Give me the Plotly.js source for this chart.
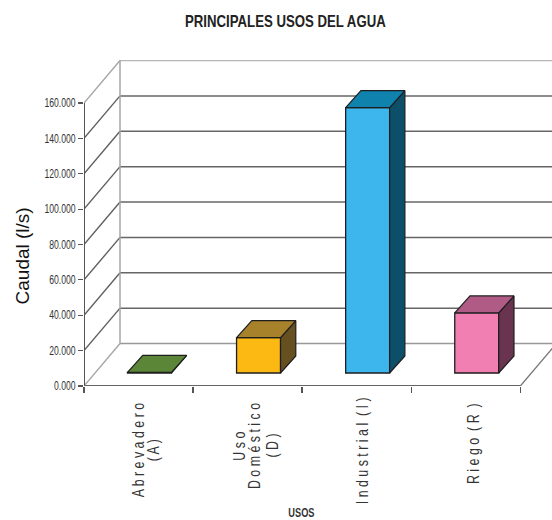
<!DOCTYPE html>
<html>
<head>
<meta charset="utf-8">
<script src="https://cdn.plot.ly/plotly-3.0.1.min.js"></script>
<style>html,body{margin:0;padding:0;background:#fff;overflow:hidden}</style>
</head>
<body>
<div id="chart" style="width:552px;height:520px"></div>
<script>
// Caudal por tipo de uso
const categories = ['Abrevadero (A)', 'Uso Doméstico (D)', 'Industrial (I)', 'Riego (R)'];
const categoryLines = [
  ['A b r e v a d e r o', '( A )'],
  ['U s o', 'D o m é s t i c o', '( D )'],
  ['I n d u s t r i a l  ( I )'],
  ['R i e g o  ( R  )']
];
const caudal = [400, 20000, 150000, 34000];
const frontColors = ['#5b8537', '#fdb913', '#3cb6ec', '#f27fb2'];
const topColors = ['#5b8537', '#a8822a', '#0f82ae', '#b05b85'];
const sideColors = ['#3d5a25', '#66501f', '#0d4f68', '#6a3450'];
const yTicks = [0, 20000, 40000, 60000, 80000, 100000, 120000, 140000, 160000];
const yTickText = ['0.000', '20.000', '40.000', '60.000', '80.000', '100.000', '120.000', '140.000', '160.000'];

// Oblique projection of the chart's depth, in axis units
const wallDx = 0.33, wallDy = 24000;
const liftDx = 0.1, liftDy = 7350;
const barDx = 0.14, barDy = 9600;
const barWidth = 0.403;
const nCat = categories.length;
const font = '"Liberation Sans",Arial,sans-serif';

// Placement of the rotated category labels: line offsets in px and centre height on the paper
const labelShifts = [[-10.5, 4], [-18.5, -3.5, 14.5], [-4.5], [-3.8]];
const labelCentres = [-0.196, -0.184, -0.199, -0.175];

const line = (x0, y0, x1, y1, color, width) => ({
  type: 'line', layer: 'below', xref: 'x', yref: 'y', x0, y0, x1, y1,
  line: {color, width}
});

const shapes = [];
yTicks.forEach((t, i) => {
  const edge = i === yTicks.length - 1 || i === 0;
  const col = edge ? '#a6a6a6' : '#5f5f5f';
  shapes.push(line(0, t, wallDx, t + wallDy, col, 1.4));
  shapes.push(line(wallDx, t + wallDy, 5, t + wallDy, i === yTicks.length - 1 ? '#b5b5b5' : (i === 0 ? '#999' : '#666'), 1.5));
});
shapes.push(line(wallDx, wallDy, wallDx, 160000 + wallDy, '#a6a6a6', 1.5));
shapes.push(line(nCat, 0, nCat + wallDx, wallDy, '#777', 1.3));
shapes.push(line(0, 0, 0, 160000, '#555', 2));
shapes.push(line(0, 0, nCat, 0, '#666', 2));

const centers = categories.map((_, i) => i + 0.5 + liftDx);
const traces = [{
  type: 'bar', x: centers, y: caudal, base: liftDy, width: barWidth,
  marker: {color: frontColors, line: {color: '#1e1e1e', width: 1.3}},
  hoverinfo: 'skip', cliponaxis: false
}];

// Top and side faces follow from each bar's value
caudal.forEach((v, i) => {
  const l = centers[i] - barWidth / 2, r = centers[i] + barWidth / 2;
  const b = liftDy, t = liftDy + v;
  traces.push({
    type: 'scatter', mode: 'lines', fill: 'toself', fillcolor: sideColors[i],
    x: [r, r + barDx, r + barDx, r, r], y: [b, b + barDy, t + barDy, t, b],
    line: {color: '#1e1e1e', width: 1.2}, hoverinfo: 'skip'
  });
  traces.push({
    type: 'scatter', mode: 'lines', fill: 'toself', fillcolor: topColors[i],
    x: [l, l + barDx, r + barDx, r, l], y: [t, t + barDy, t + barDy, t, t],
    line: {color: '#1e1e1e', width: 1.2}, hoverinfo: 'skip'
  });
});

const annotations = [];
const squeeze = [];
categoryLines.forEach((lines, i) => {
  lines.forEach((txt, j) => {
    annotations.push({
      xref: 'x', yref: 'paper', x: centers[i], xshift: labelShifts[i][j], y: labelCentres[i],
      yanchor: 'middle', xanchor: 'center', text: txt, textangle: -90, showarrow: false,
      font: {family: font, size: 17, color: '#333'}
    });
    squeeze.push(0.73);
  });
});
annotations.push({
  xref: 'paper', yref: 'paper', x: -0.132, y: 0.398, xanchor: 'center', yanchor: 'middle',
  text: 'Caudal (l/s)', textangle: -90, showarrow: false,
  font: {family: font, size: 19, color: '#111'}
});
squeeze.push(1);
annotations.push({
  xref: 'paper', yref: 'paper', x: 0.465, y: -0.387, xanchor: 'center', yanchor: 'middle',
  text: '<b>USOS</b>', showarrow: false,
  font: {family: font, size: 13, color: '#333'}
});
squeeze.push(0.71);

// Condense a text element's glyphs along its baseline
function condense(el, factor) {
  if (factor === 1) return;
  const len = el.getComputedTextLength();
  el.setAttribute('textLength', (len * factor).toFixed(1));
  el.setAttribute('lengthAdjust', 'spacingAndGlyphs');
}

Plotly.newPlot('chart', traces, {
  width: 552, height: 520,
  margin: {l: 84, r: 0, t: 60, b: 134, pad: 0},
  paper_bgcolor: '#fff', plot_bgcolor: '#fff',
  showlegend: false,
  title: {
    text: '<b>PRINCIPALES USOS DEL AGUA</b>',
    x: 0.517, xanchor: 'center', y: 0.96, yanchor: 'middle',
    font: {family: font, size: 16.5, color: '#222'}
  },
  xaxis: {
    range: [0, 4.29], tickmode: 'array', tickvals: [0, 1, 2, 3, 4], ticktext: ['', '', '', '', ''],
    ticks: 'outside', ticklen: 6, tickwidth: 1.5, tickcolor: '#555',
    showgrid: false, zeroline: false, showline: false
  },
  yaxis: {
    range: [0, 184300], tickmode: 'array', tickvals: yTicks, ticktext: yTickText,
    ticks: 'outside', ticklen: 5, tickwidth: 1.2, tickcolor: '#555',
    tickfont: {family: font, size: 12, color: '#333'},
    showgrid: false, zeroline: false, showline: false
  },
  shapes, annotations
}, {displayModeBar: false, staticPlot: true}).then(gd => {
  gd.querySelectorAll('.ytick text').forEach(el => condense(el, 0.72));
  gd.querySelectorAll('.annotation-text').forEach((el, i) => condense(el, squeeze[i]));
  gd.querySelectorAll('.gtitle').forEach(el => condense(el, 0.8));
});
</script>
</body>
</html>
